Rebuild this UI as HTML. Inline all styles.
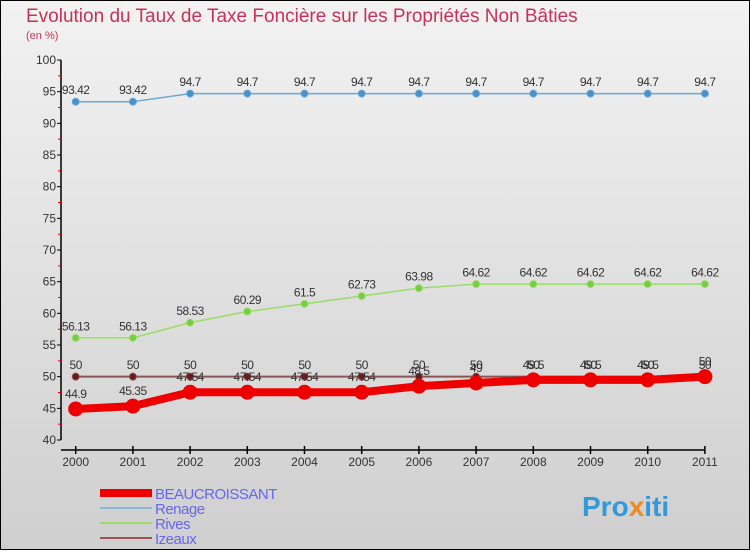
<!DOCTYPE html>
<html><head><meta charset="utf-8"><style>
body{margin:0;width:750px;height:550px;overflow:hidden;font-family:"Liberation Sans",sans-serif}
</style></head><body>
<svg width="750" height="550" xmlns="http://www.w3.org/2000/svg">
<defs><linearGradient id="bg" x1="0" y1="0" x2="0" y2="1"><stop offset="0" stop-color="#f2f2f2"/><stop offset="1" stop-color="#cfcfcf"/></linearGradient></defs>
<rect x="0.5" y="0.5" width="749" height="549" fill="url(#bg)" stroke="#000"/>
<text x="26" y="22" font-size="19" fill="#c8325a">Evolution du Taux de Taxe Foncière sur les Propriétés Non Bâties</text>
<text x="26" y="39" font-size="11" fill="#c8325a">(en %)</text>
<g id="axes"></g><g id="series"></g><g id="legend"></g>
<text x="582" y="516" font-size="28" font-weight="bold" fill="#3399dd">Pro<tspan fill="#f08a20">x</tspan>iti</text>
</svg>
<script>
const years=["2000","2001","2002","2003","2004","2005","2006","2007","2008","2009","2010","2011"];
const yTicks=[40,45,50,55,60,65,70,75,80,85,90,95,100];
const beaucroissant=[44.9,45.35,47.54,47.54,47.54,47.54,48.5,49,49.5,49.5,49.5,50];
const renage=[93.42,93.42,94.7,94.7,94.7,94.7,94.7,94.7,94.7,94.7,94.7,94.7];
const rives=[56.13,56.13,58.53,60.29,61.5,62.73,63.98,64.62,64.62,64.62,64.62,64.62];
const izeaux=[50,50,50,50,50,50,50,50,50,50,50,50];
const NS="http://www.w3.org/2000/svg";
const X=i=>75.7+i*57.2, Y=v=>440-(v-40)*6.333;
function mk(p,t,a){const e=document.createElementNS(NS,t);for(const k in a)e.setAttribute(k,a[k]);p.appendChild(e);return e;}
const ax=document.getElementById('axes');
let l=mk(ax,'path',{d:`M61,${Y(100)}V${Y(40)}M61,450H${X(11)}`,stroke:'#000','stroke-width':1.5,fill:'none'});

yTicks.forEach(v=>{
 const t=mk(ax,'line',{x1:57,x2:61,y1:Y(v),y2:Y(v),stroke:'#000'});
 
 const s=mk(ax,'text',{x:56,y:Y(v)+4,'font-size':12,'text-anchor':'end',fill:'#333'});s.textContent=v;
 
 if(v<100){const m=mk(ax,'line',{x1:58,x2:61,y1:Y(v+2.5),y2:Y(v+2.5),stroke:'#e00'});
 }
});
years.forEach((y,i)=>{
 const t=mk(ax,'line',{x1:X(i),x2:X(i),y1:446,y2:454,stroke:'#000','stroke-width':1.5});
 
 const s=mk(ax,'text',{x:X(i),y:466,'font-size':12,'text-anchor':'middle',fill:'#333'});s.textContent=y;
 
});
const sg=document.getElementById('series');
function series(name,data,color,w,r,dot){
 const g=mk(sg,'g',{});
 const p=mk(g,'polyline',{points:data.map((v,i)=>X(i)+','+Y(v)).join(' '),fill:'none',stroke:color,'stroke-width':w,'stroke-linejoin':'round'});
 
 data.forEach((v,i)=>{
  const c=mk(g,'circle',{cx:X(i),cy:Y(v),r:r,fill:dot,stroke:color,'stroke-width':1});
  
  const t=mk(g,'text',{x:X(i),y:Y(v)-r-4,'font-size':12,'text-anchor':'middle',fill:'#333','letter-spacing':'-0.5'});t.textContent=v;
  
 });
}
series('renage',renage,'#6aa8d8',1.5,3.5,'#4a90c8');
series('rives',rives,'#99dd66',1.5,3.5,'#77cc44');
series('izeaux',izeaux,'#8a5555',2,3.5,'#6a1a1a');
series('beaucroissant',beaucroissant,'#ee0000',8,7,'#ee0000');
const lg=document.getElementById('legend');
[['BEAUCROISSANT','#ee0000',8],['Renage','#88b8d8',2],['Rives','#99dd66',2],['Izeaux','#995555',2]].forEach((d,i)=>{
 const y=493+i*15;
 const e=mk(lg,'line',{x1:100,x2:152,y1:y,y2:y,stroke:d[1],'stroke-width':d[2]});
 
 const t=mk(lg,'text',{x:155,y:y+6,'font-size':15,fill:'#6666ee','letter-spacing':'-0.5'});t.textContent=d[0];
 
});
</script>
</body></html>
